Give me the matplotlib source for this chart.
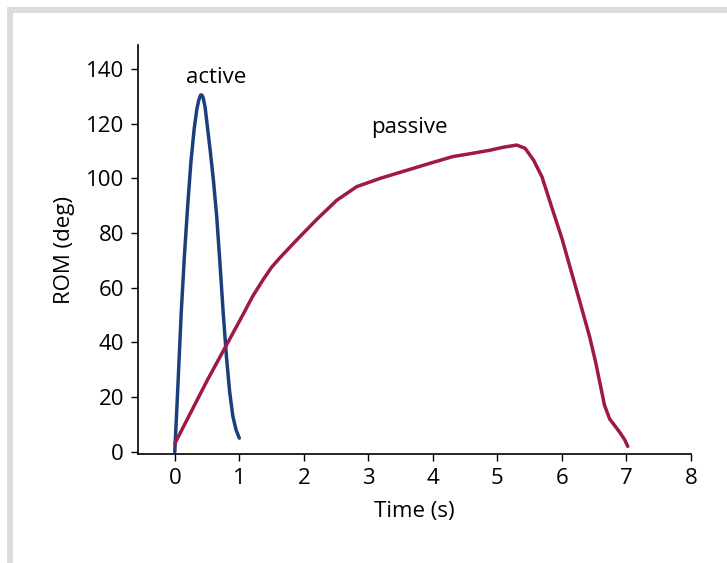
import matplotlib.pyplot as plt
from matplotlib.patches import Rectangle

plt.rcParams['font.family'] = ['Open Sans', 'DejaVu Sans']

# active ROM curve
active_t = [0, 0.02, 0.05, 0.10, 0.15, 0.20, 0.25, 0.30, 0.34, 0.37, 0.40, 0.42, 0.44,
            0.47, 0.50, 0.55, 0.60, 0.65, 0.70, 0.75, 0.80, 0.85, 0.90, 0.95, 1.0]
active_rom = [0, 10, 25, 51, 72, 90, 106, 118, 125, 128.5, 130.5, 130.5, 129.5,
              126, 120, 110, 99, 86, 69, 51, 35, 22, 13, 8, 5]

# passive ROM curve
passive_t = [0, 0.5, 1.03, 1.21, 1.37, 1.5, 1.63, 1.89, 2.2, 2.51, 2.82, 3.18, 3.6, 3.95,
             4.31, 4.57, 4.88, 5.09, 5.30, 5.43, 5.56, 5.69, 5.84, 6.0, 6.12, 6.3, 6.43,
             6.52, 6.59, 6.66, 6.74, 6.82, 6.9, 6.97, 7.02]
passive_rom = [3, 26, 49, 57, 63, 67.5, 71, 77.5, 85, 92, 97, 100, 103, 105.5,
               108, 109, 110.3, 111.4, 112.2, 111, 106.7, 100.6, 89.6, 78, 68, 53, 42,
               33, 25, 17, 12, 9.5, 7, 4.5, 2]

x_ticks = [0, 1, 2, 3, 4, 5, 6, 7, 8]
y_ticks = [0, 20, 40, 60, 80, 100, 120, 140]

fig = plt.figure(figsize=(7.27, 5.63), dpi=100)

# light gray frame on top and left edges
frame_col = '#dcdcdc'
fig.patches.append(Rectangle((7 / 727, 0), 6 / 727, 1 - 7 / 563, transform=fig.transFigure,
                             facecolor=frame_col, edgecolor='none'))
fig.patches.append(Rectangle((7 / 727, 1 - 13 / 563), 1, 6 / 563, transform=fig.transFigure,
                             facecolor=frame_col, edgecolor='none'))

ax = fig.add_axes([138 / 727, 109 / 563, 553 / 727, 409 / 563])

ax.plot(active_t, active_rom, color='#1a3f7c', linewidth=2.5,
        solid_capstyle='round', solid_joinstyle='round')
ax.plot(passive_t, passive_rom, color='#9e1848', linewidth=2.5,
        solid_capstyle='round', solid_joinstyle='round')

ax.text(0.64, 137, 'active', fontsize=16, ha='center', va='center')
ax.text(3.64, 118.5, 'passive', fontsize=16, ha='center', va='center')

ax.set_xlim(-0.57, 8)
ax.set_ylim(-0.8, 148.8)
ax.set_xticks(x_ticks)
ax.set_yticks(y_ticks)
ax.tick_params(labelsize=16, length=5, width=1, direction='out', pad=5)

for s in ['top', 'right']:
    ax.spines[s].set_visible(False)
for s in ['left', 'bottom']:
    ax.spines[s].set_linewidth(1.2)

ax.set_xlabel('Time (s)', fontsize=16, labelpad=9)
ax.set_ylabel('ROM (deg)', fontsize=16, labelpad=8)

fig.savefig('out.png', dpi=100)
